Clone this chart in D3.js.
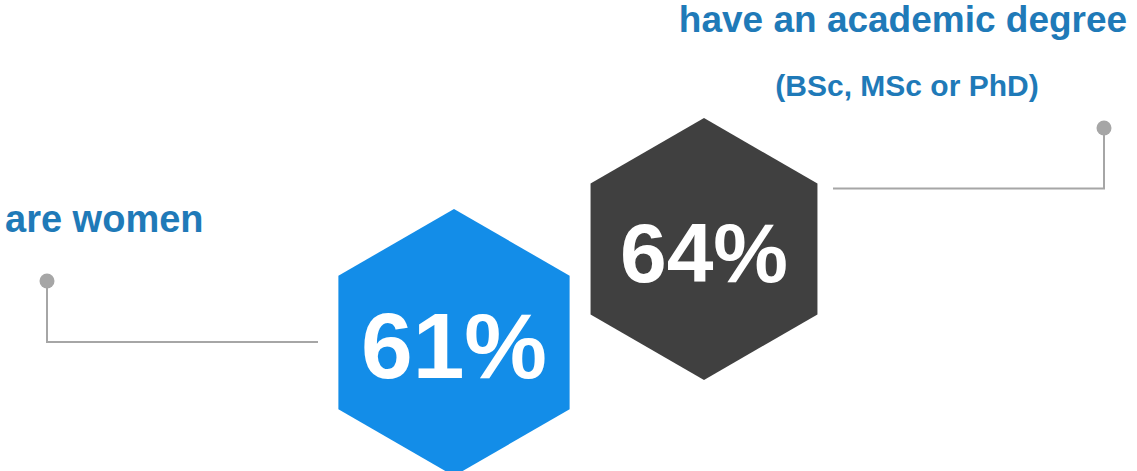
<!DOCTYPE html>
<html>
<head>
<meta charset="utf-8">
<script src="https://cdn.jsdelivr.net/npm/d3@7"></script>
<style>
  html, body { margin: 0; padding: 0; background: #fff; overflow: hidden; }
  text { font-family: "Liberation Sans", Arial, sans-serif; font-weight: bold; }
</style>
</head>
<body>
<div id="chart"></div>
<script>
// data
const values = [61, 64];
const labels = ["are women", "have an academic degree"];
const subLabels = ["", "(BSc, MSc or PhD)"];
const hexColors = ["#138de8", "#404040"];

const width = 1137, height = 471;
const svg = d3.select("#chart").append("svg")
    .attr("width", width)
    .attr("height", height);

// layout for each hexagon (center, radius, value font size)
const layout = [
    {cx: 454, cy: 342.5, r: 133.5, fs: 93, labelX: 5, labelY: 232, anchor: "start", labelFs: 38,
     dot: [47, 281], elbow: [47, 342], end: [318, 342]},
    {cx: 704, cy: 249, r: 131, fs: 84, labelX: 903, labelY: 32, anchor: "middle", labelFs: 37,
     subY: 96, dot: [1104, 128], elbow: [1104, 188.5], end: [833, 188.5]}
];

const hexLine = d3.line();
function hexPoints(cx, cy, r) {
    return d3.range(6).map(i => {
        const a = -Math.PI / 2 + i * Math.PI / 3;
        return [cx + r * Math.cos(a), cy + r * Math.sin(a)];
    });
}

const groups = svg.selectAll("g.item")
    .data(values)
    .enter()
    .append("g")
    .attr("class", "item");

//connector lines
groups.append("path")
    .attr("d", (d, i) => hexLine([layout[i].dot, layout[i].elbow, layout[i].end]))
    .attr("fill", "none")
    .attr("stroke", "#a6a6a6")
    .attr("stroke-width", 2);
groups.append("circle")
    .attr("cx", (d, i) => layout[i].dot[0])
    .attr("cy", (d, i) => layout[i].dot[1])
    .attr("r", 7.5)
    .attr("fill", "#a6a6a6");

//hexagons
groups.append("path")
    .attr("d", (d, i) => hexLine(hexPoints(layout[i].cx, layout[i].cy, layout[i].r)) + "Z")
    .attr("fill", (d, i) => hexColors[i]);

//values
groups.append("text")
    .attr("x", (d, i) => layout[i].cx)
    .attr("y", (d, i) => layout[i].cy + (i === 0 ? 35.5 : 33))
    .attr("text-anchor", "middle")
    .attr("fill", "#fff")
    .style("font-size", (d, i) => layout[i].fs + "px")
    .text(d => d + "%");

//labels
groups.append("text")
    .attr("x", (d, i) => layout[i].labelX)
    .attr("y", (d, i) => layout[i].labelY)
    .attr("text-anchor", (d, i) => layout[i].anchor)
    .attr("fill", "#1f7ab8")
    .style("font-size", (d, i) => layout[i].labelFs + "px")
    .text((d, i) => labels[i]);

groups.filter((d, i) => subLabels[i] !== "")
    .append("text")
    .attr("x", 907)
    .attr("y", layout[1].subY)
    .attr("text-anchor", "middle")
    .attr("fill", "#1f7ab8")
    .style("font-size", "30px")
    .text(() => subLabels[1]);
</script>
</body>
</html>
